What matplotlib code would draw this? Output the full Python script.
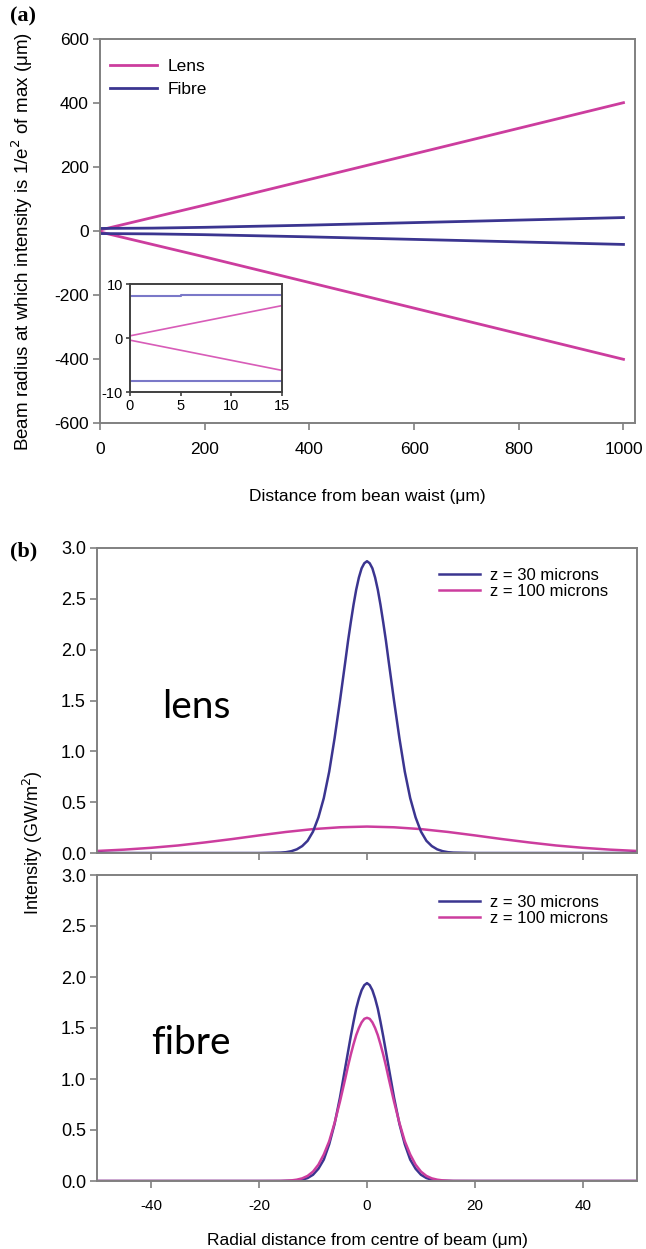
import numpy as np
import matplotlib
matplotlib.use('Agg')
import matplotlib.pyplot as plt

plt.rcParams['font.family'] = ['Liberation Sans', 'DejaVu Sans']
plt.rcParams['axes.unicode_minus'] = False

# ---- panel (a): beam radius vs distance from waist ----
z_main = [0, 100, 200, 300, 400, 500, 600, 700, 800, 900, 1000]
lens_up = [3, 42, 81, 121, 161, 201, 241, 281, 321, 361, 401]
lens_lo = [-3, -42, -81, -121, -161, -201, -241, -281, -321, -361, -401]
fibre_up = [8, 9, 11.5, 14.9, 18.3, 22.3, 26.2, 30.1, 34.1, 38, 42]
fibre_lo = [-8, -9, -11.5, -14.9, -18.3, -22.3, -26.2, -30.1, -34.1, -38, -42]

# inset (zoom on first 15 um)
z_ins = [0, 5, 5, 15]
ins_fibre_up = [7.8, 7.8, 8.0, 8.0]
ins_fibre_lo = [-8.0, -8.0, -8.0, -8.0]
z_ins_lens = [0, 15]
ins_lens_up = [0.4, 6.0]
ins_lens_lo = [-0.4, -6.0]

# ---- panel (b): radial intensity profiles ----
r_narrow = [-50, -20, -16, -15, -14, -13, -12, -11, -10, -9, -8, -7, -6, -5, -4, -3.5, -3, -2.5, -2, -1.5, -1, -0.5, 0,
            0.5, 1, 1.5, 2, 2.5, 3, 3.5, 4, 5, 6, 7, 8, 9, 10, 11, 12, 13, 14, 15, 16, 20, 50]
lens_z30 = [0, 0, 0.004, 0.008, 0.018, 0.036, 0.068, 0.12, 0.21, 0.35, 0.54, 0.80, 1.13, 1.50, 1.89, 2.09, 2.27, 2.44, 2.59, 2.71, 2.80, 2.85, 2.87,
            2.85, 2.80, 2.71, 2.59, 2.44, 2.27, 2.09, 1.89, 1.50, 1.13, 0.80, 0.54, 0.35, 0.21, 0.12, 0.068, 0.036, 0.018, 0.008, 0.004, 0, 0]
fibre_z30 = [0, 0, 0, 0.001, 0.002, 0.005, 0.013, 0.029, 0.061, 0.12, 0.21, 0.36, 0.56, 0.82, 1.12, 1.27, 1.42, 1.56, 1.69, 1.79, 1.87, 1.92, 1.94,
             1.92, 1.87, 1.79, 1.69, 1.56, 1.42, 1.27, 1.12, 0.82, 0.56, 0.36, 0.21, 0.12, 0.061, 0.029, 0.013, 0.005, 0.002, 0.001, 0, 0, 0]
fibre_z100 = [0, 0, 0.001, 0.003, 0.006, 0.013, 0.026, 0.050, 0.092, 0.16, 0.26, 0.39, 0.57, 0.78, 1.01, 1.13, 1.24, 1.34, 1.43, 1.50, 1.555, 1.59, 1.60,
              1.59, 1.555, 1.50, 1.43, 1.34, 1.24, 1.13, 1.01, 0.78, 0.57, 0.39, 0.26, 0.16, 0.092, 0.050, 0.026, 0.013, 0.006, 0.003, 0.001, 0, 0]
r_wide = [-50, -45, -40, -35, -30, -25, -20, -15, -10, -5, 0, 5, 10, 15, 20, 25, 30, 35, 40, 45, 50]
lens_z100 = [0.020, 0.033, 0.051, 0.074, 0.104, 0.137, 0.173, 0.207, 0.235, 0.253, 0.26,
             0.253, 0.235, 0.207, 0.173, 0.137, 0.104, 0.074, 0.051, 0.033, 0.020]

PINK = '#cc3d9e'
NAVY = '#3b3590'
SPINE = '#808080'

W, H = 646, 1249
fig = plt.figure(figsize=(W / 100, H / 100), dpi=100)


def box(l, t, r, b):
    return fig.add_axes([l / W, 1 - b / H, (r - l) / W, (b - t) / H])


def style(ax, size, color=SPINE):
    for s in ax.spines.values():
        s.set_color(color)
        s.set_linewidth(1.4)
    ax.tick_params(direction='out', length=5, width=1.2, color=color, labelsize=size, pad=3)


# (a)
ax = box(100, 39, 635, 423)
ax.plot(z_main, lens_up, color=PINK, lw=2, label='Lens')
ax.plot(z_main, lens_lo, color=PINK, lw=2)
ax.plot(z_main, fibre_up, color=NAVY, lw=2, label='Fibre')
ax.plot(z_main, fibre_lo, color=NAVY, lw=2)
ax.set_xlim(0, 1022)
ax.set_ylim(-600, 600)
ax.set_xticks([0, 200, 400, 600, 800, 1000])
ax.set_yticks(np.arange(-600, 601, 200))
style(ax, 12.5)
ax.tick_params(axis='x', pad=9)
ax.set_xlabel('Distance from bean waist (\u03bcm)', fontsize=12.5)
ax.xaxis.set_label_coords(0.5, -(497 - 423) / 384, transform=ax.transAxes)
ax.xaxis.label.set_va('center')
ax.legend(loc='upper left', bbox_to_anchor=(-0.01, 0.99), frameon=False, fontsize=12.5,
          handlelength=2.7, labelspacing=0.45, handletextpad=0.6)
fig.text(22 / W, 1 - 242 / H, 'Beam radius at which intensity is 1/e$^2$ of max (\u03bcm)',
         rotation=90, ha='center', va='center', fontsize=13.5)
fig.text(10 / W, 1 - 16 / H, '(a)', fontsize=16, fontweight='bold', family='Liberation Serif',
         ha='left', va='center')

ins = box(130, 284, 282, 392)
ins.plot(z_ins, ins_fibre_up, color='#7a78c8', lw=1.5)
ins.plot(z_ins, ins_fibre_lo, color='#7a78c8', lw=1.5)
ins.plot(z_ins_lens, ins_lens_up, color='#d85cb8', lw=1.2)
ins.plot(z_ins_lens, ins_lens_lo, color='#d85cb8', lw=1.2)
ins.set_xlim(0, 15)
ins.set_ylim(-10, 10)
ins.set_xticks([0, 5, 10, 15])
ins.set_yticks([-10, 0, 10])
style(ins, 10.5, '#404040')
ins.tick_params(length=3, pad=2)

# (b) lens
axl = box(97, 548, 637, 853)
axl.plot(r_wide, lens_z100, color=PINK, lw=1.8, label='z = 100 microns')
axl.plot(r_narrow, lens_z30, color=NAVY, lw=1.8, label='z = 30 microns')
axl.set_xlim(-50, 50)
axl.set_ylim(0, 3.0)
axl.set_yticks(np.arange(0, 3.01, 0.5))
axl.set_yticklabels(['%.1f' % v for v in np.arange(0, 3.01, 0.5)])
axl.set_xticks([-40, -20, 0, 20, 40])
axl.set_xticklabels([])
style(axl, 13)
h, lab = axl.get_legend_handles_labels()
axl.legend(h[::-1], lab[::-1], loc='upper right', bbox_to_anchor=(0.975, 0.985), frameon=False, fontsize=12,
           handlelength=2.5, labelspacing=0.1, handletextpad=0.6)
axl.text(0.12, 0.48, 'lens', transform=axl.transAxes, fontsize=28, family='Lato', ha='left', va='center')

# (b) fibre
axf = box(97, 875, 637, 1181)
axf.plot(r_narrow, fibre_z30, color=NAVY, lw=1.8, label='z = 30 microns')
axf.plot(r_narrow, fibre_z100, color=PINK, lw=1.8, label='z = 100 microns')
axf.set_xlim(-50, 50)
axf.set_ylim(0, 3.0)
axf.set_yticks(np.arange(0, 3.01, 0.5))
axf.set_yticklabels(['%.1f' % v for v in np.arange(0, 3.01, 0.5)])
axf.set_xticks([-40, -20, 0, 20, 40])
style(axf, 13)
axf.tick_params(axis='x', labelsize=11, pad=8)
axf.set_xlabel('Radial distance from centre of beam (\u03bcm)', fontsize=12.5, labelpad=14)
axf.legend(loc='upper right', bbox_to_anchor=(0.975, 0.985), frameon=False, fontsize=12,
           handlelength=2.5, labelspacing=0.1, handletextpad=0.6)
axf.text(0.1, 0.45, 'fibre', transform=axf.transAxes, fontsize=28, family='Lato', ha='left', va='center')

fig.text(33 / W, 1 - 843 / H, 'Intensity (GW/m$^2$)', rotation=90, ha='center', va='center', fontsize=13)
fig.text(10 / W, 1 - 551 / H, '(b)', fontsize=16, fontweight='bold', family='Liberation Serif',
         ha='left', va='center')

fig.savefig('out.png', dpi=100)
